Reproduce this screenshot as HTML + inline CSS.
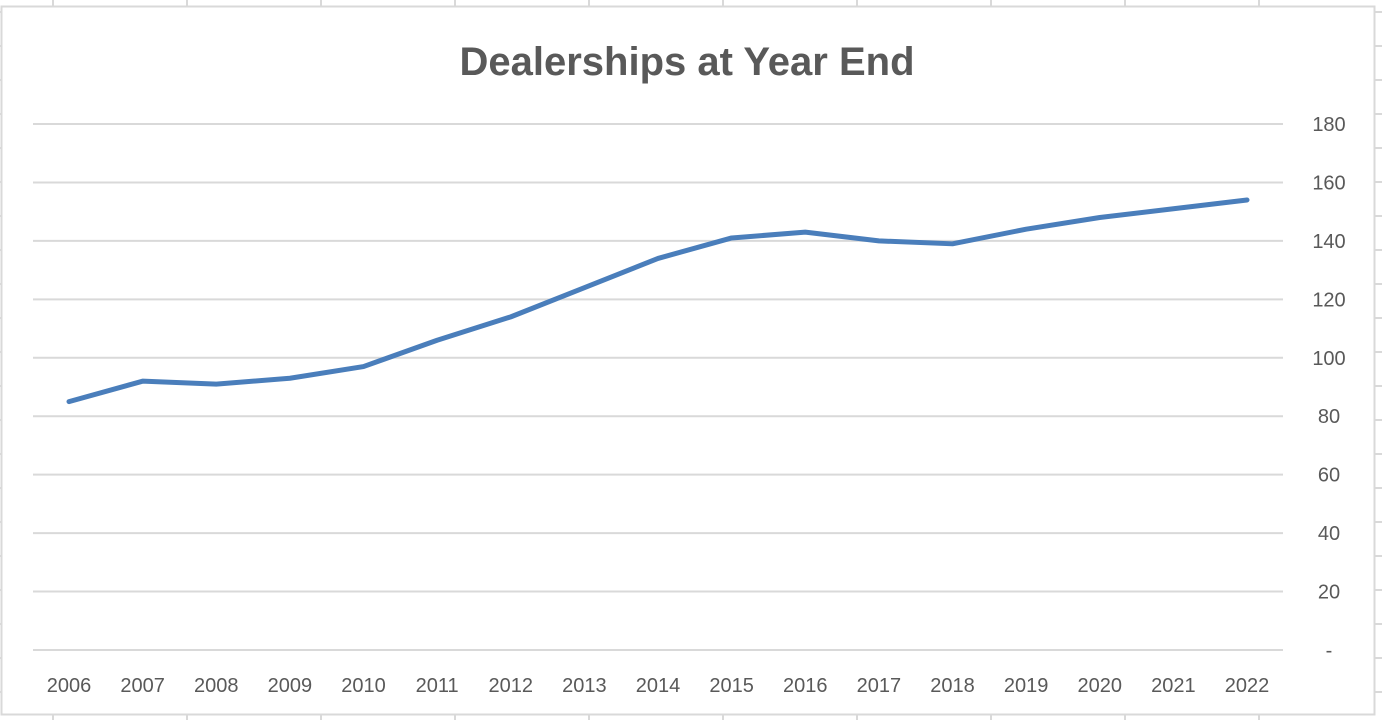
<!DOCTYPE html>
<html><head><meta charset="utf-8"><style>
html,body{margin:0;padding:0;background:#fff;}
svg{display:block;font-family:"Liberation Sans",sans-serif;}
</style></head><body>
<svg id="c" width="1382" height="720">
<g id="sheet"></g>
<rect x="1.5" y="6.5" width="1373" height="708" fill="#fff" stroke="#d9d9d9" stroke-width="2"/>
<text x="687" y="75" text-anchor="middle" font-size="40" font-weight="bold" fill="#595959">Dealerships at Year End</text>
<g id="grid"></g>
<g id="yt"></g>
<g id="xt"></g>
<path id="line" fill="none" stroke="#4a7ebb" stroke-width="5" stroke-linejoin="round" stroke-linecap="round"/>
</svg>
<script>
const years=["2006","2007","2008","2009","2010","2011","2012","2013","2014","2015","2016","2017","2018","2019","2020","2021","2022"];
const dealerships=[85,92,91,93,97,106,114,124,134,141,143,140,139,144,148,151,154];
const yTicks=[0,20,40,60,80,100,120,140,160,180];
const yTickLabels=["-","20","40","60","80","100","120","140","160","180"];
const NS="http://www.w3.org/2000/svg";
const x=i=>69+i*(1247-69)/(years.length-1);
const y=v=>650-v*(650-124)/180;
function mk(t,a,p){const e=document.createElementNS(NS,t);for(const k in a)e.setAttribute(k,a[k]);p.appendChild(e);return e;}
const sheet=document.getElementById('sheet');
for(let cx=53;cx<1382;cx+=134){const l=mk('line',{x1:cx,x2:cx,y1:0,y2:720,stroke:'#d9d9d9','stroke-width':2},sheet);

}
for(let ry=12;ry<720;ry+=34){const l=mk('line',{x1:0,x2:1382,y1:ry,y2:ry,stroke:'#d9d9d9','stroke-width':2},sheet);

}
const grid=document.getElementById('grid'),yt=document.getElementById('yt'),xt=document.getElementById('xt');
yTicks.forEach((v,i)=>{
const l=mk('line',{x1:33,x2:1283,y1:y(v),y2:y(v),stroke:'#d9d9d9','stroke-width':2},grid);


const t=mk('text',{x:1329,y:y(v)+7,'text-anchor':'middle','font-size':20,fill:'#595959'},yt);
t.textContent=yTickLabels[i];


});
years.forEach((yr,i)=>{
const t=mk('text',{x:x(i),y:692,'text-anchor':'middle','font-size':20,fill:'#595959'},xt);
t.textContent=yr;


});
document.getElementById('line').setAttribute('d',dealerships.map((v,i)=>(i?'L':'M')+x(i)+','+y(v)).join(''));
</script>
</body></html>
